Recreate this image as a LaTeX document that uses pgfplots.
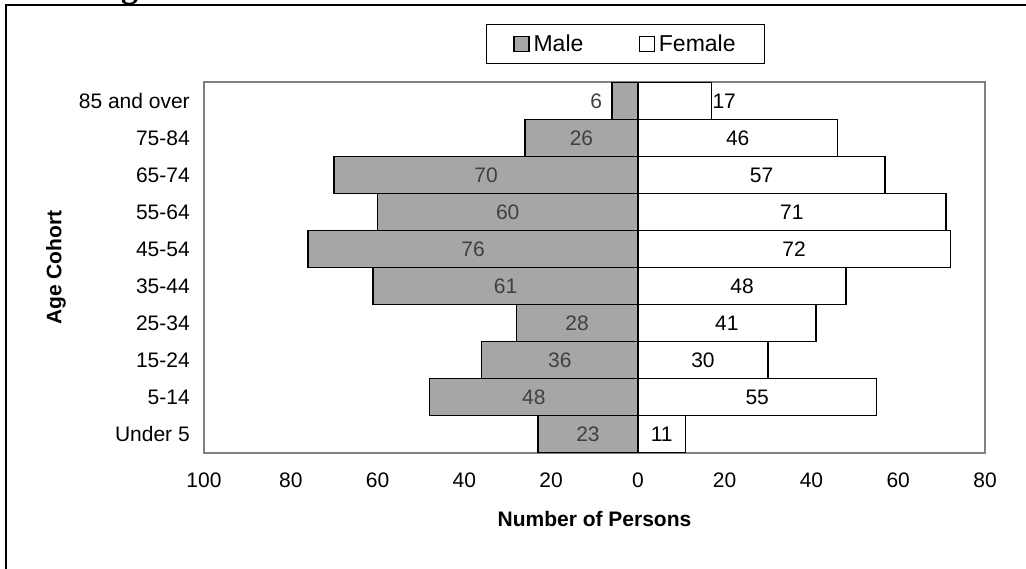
\documentclass[border=0pt]{standalone}
\usepackage{pgfplots}
\usepackage{pgfplotstable}
\pgfplotsset{compat=1.18}
\usepackage{fontspec}
\setmainfont{Liberation Sans}
\newfontfamily\serifbold{Liberation Serif}
\definecolor{maleg}{HTML}{A6A6A6}
\definecolor{labg}{HTML}{404040}
\definecolor{axg}{HTML}{808080}

\pgfplotstableread{
y  m    f   mlx    flx   ml fl
0  -23  11  -11.5  5.5   23 11
1  -48  55  -24    27.5  48 55
2  -36  30  -18    15    36 30
3  -28  41  -14    20.5  28 41
4  -61  48  -30.5  24    61 48
5  -76  72  -38    36    76 72
6  -60  71  -30    35.5  60 71
7  -70  57  -35    28.5  70 57
8  -26  46  -13    23    26 46
9  -6   17  -9.6   19.9  6  17
}\data

\begin{document}
\begin{tikzpicture}
\useasboundingbox (0,0) rectangle (1026pt,569pt);
\begin{scope}
\clip (116pt,563.5pt) rectangle (144pt,569pt);
\node[anchor=base west, inner sep=0pt, font={\fontsize{34}{40}\selectfont\serifbold\bfseries}] at (121pt,571pt) {g};
\end{scope}
\draw[line width=2pt] (5.5pt,0pt) -- (5.5pt,563.5pt) -- (1026pt,563.5pt);
\begin{axis}[
  at={(204pt,116.3pt)}, anchor=south west,
  scale only axis, width=781pt, height=370.4pt,
  xmin=-100, xmax=80, ymin=-0.5, ymax=9.5,
  xtick={-100,-80,...,80},
  ytick={0,...,9},
  yticklabels={Under 5,5-14,15-24,25-34,35-44,45-54,55-64,65-74,75-84,85 and over},
  xticklabel={\pgfmathparse{abs(\tick)}\pgfmathprintnumber{\pgfmathresult}},
  /pgf/number format/assume math mode=true,
  major tick length=0pt,
  axis line style={draw=axg, line width=1.8pt},
  tick label style={font=\fontsize{21}{25}\selectfont},
  xticklabel style={yshift=-17pt},
  yticklabel style={xshift=-10.7pt},
  xlabel={Number of Persons},
  ylabel={Age Cohort},
  label style={font=\bfseries\fontsize{21}{25}\selectfont},
  xlabel style={at={(axis description cs:0.5,0)}, anchor=base, yshift=-73.5pt},
  ylabel style={at={(axis description cs:-0.1895,0.5)}, anchor=center, rotate=0},
  legend columns=2,
  legend style={at={(axis description cs:0.5397,1.1029)}, anchor=center,
    draw=black, line width=1pt, inner xsep=26.5pt, inner ysep=8.5pt,
    font=\fontsize{23}{27}\selectfont,
    nodes={inner sep=2pt, text depth=0.15em},
    /tikz/every odd column/.append style={column sep=2pt},
    /tikz/every even column/.append style={column sep=53.3pt}},
]
\addplot[xbar, bar width=37.04pt, bar shift=0pt, fill=maleg, draw=black, line width=1.5pt,
  legend image code/.code={\draw[fill=maleg, draw=black, line width=1.2pt] (0pt,-7.5pt) rectangle (15pt,7.5pt);}]
  table[x=m, y=y] {\data};
\addlegendentry{Male}
\addplot[xbar, bar width=37.04pt, bar shift=0pt, fill=white, draw=black, line width=1.5pt,
  legend image code/.code={\draw[fill=white, draw=black, line width=1.2pt] (0pt,-7.5pt) rectangle (15pt,7.5pt);}]
  table[x=f, y=y] {\data};
\addlegendentry{Female}
\addplot[draw=none, forget plot, nodes near coords, point meta=explicit symbolic,
  nodes near coords style={anchor=center, text=labg, font=\fontsize{21}{25}\selectfont}]
  table[x=mlx, y=y, meta=ml] {\data};
\addplot[draw=none, forget plot, nodes near coords, point meta=explicit symbolic,
  nodes near coords style={anchor=center, text=black, font=\fontsize{21}{25}\selectfont}]
  table[x=flx, y=y, meta=fl] {\data};
\end{axis}
\end{tikzpicture}
\end{document}
